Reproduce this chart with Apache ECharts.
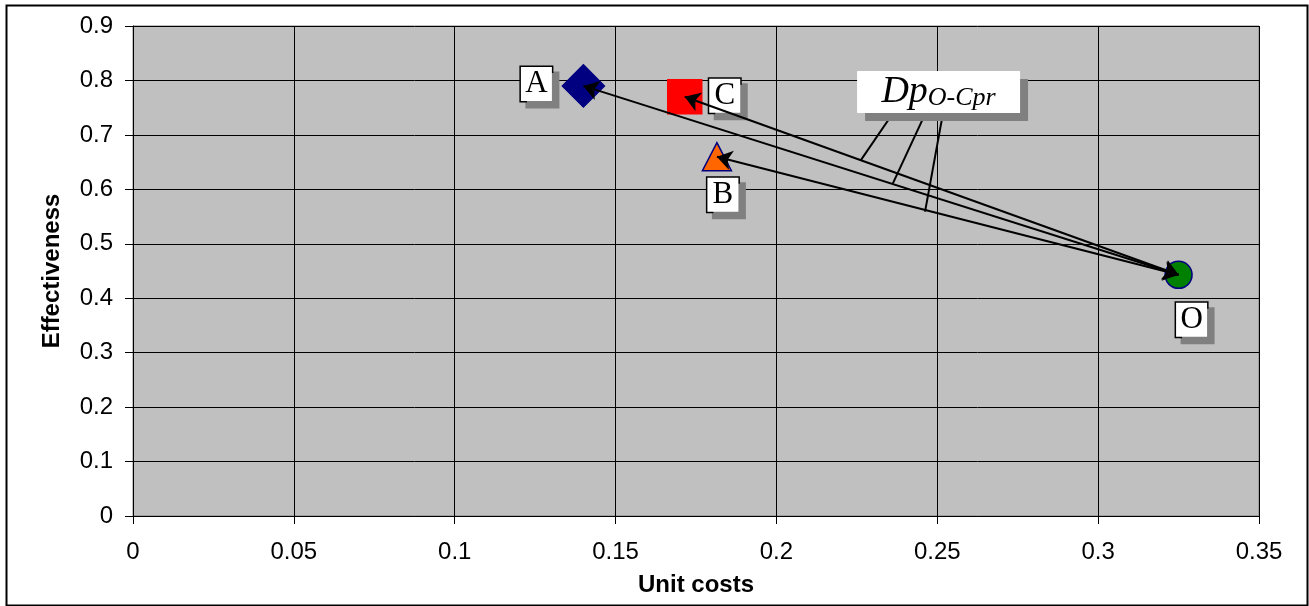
<!DOCTYPE html>
<html>
<head>
<meta charset="utf-8">
<script src="https://cdn.jsdelivr.net/npm/echarts@6/dist/echarts.min.js"></script>
<style>html,body{margin:0;padding:0;background:#fff}#c{width:1309px;height:606px}</style>
</head>
<body>
<div id="c"></div>
<script>
// ---- data ----
const pointNames = ['A', 'B', 'C', 'O'];
const unitCosts = [0.14, 0.1815, 0.1715, 0.325];
const effectiveness = [0.79, 0.66, 0.77, 0.443];
const xTicks = [0, 0.05, 0.1, 0.15, 0.2, 0.25, 0.3, 0.35];
const yTicks = [0, 0.1, 0.2, 0.3, 0.4, 0.5, 0.6, 0.7, 0.8, 0.9];
// arrows go from O to each of A, B, C
const arrowFrom = 'O';
const arrowTo = ['A', 'C', 'B'];
// callout "Dp O-Cpr" anchor and its leader lines (data coordinates)
const calloutMain = 'Dp';
const calloutSub = 'O-Cpr';
const calloutAt = [0.2504, 0.7788];
const leaderStarts = [[0.236, 0.738], [0.2462, 0.738], [0.2515, 0.731]];
const leaderEnds = [[0.2263, 0.654], [0.2362, 0.611], [0.2462, 0.559]];

// ---- styles (not data) ----
const styleMap = {
  A: { symbol: 'diamond', size: 42, color: '#000080', border: '#000080', off: [-47, -2] },
  B: { symbol: 'triangle', size: [29, 28], color: '#FF6600', border: '#000080', off: [6, 38] },
  C: { symbol: 'rect', size: 34, color: '#FF0000', border: '#FF0000', off: [40, -1] },
  O: { symbol: 'circle', size: 27, color: '#008000', border: '#000080', off: [13, 45] }
};

const pt = n => { const i = pointNames.indexOf(n); return [unitCosts[i], effectiveness[i]]; };

const boxLabel = (off) => ({
  show: true, position: 'inside', offset: off,
  formatter: '{b}',
  fontFamily: 'Liberation Serif', fontSize: 31, color: '#000',
  backgroundColor: '#fff', borderColor: '#000', borderWidth: 1.5,
  width: 31, height: 34, align: 'center', verticalAlign: 'middle', lineHeight: 34,
  shadowColor: '#808080', shadowOffsetX: 6, shadowOffsetY: 6, shadowBlur: 0
});

const series = pointNames.map((n, i) => {
  const s = styleMap[n];
  return {
    type: 'scatter', name: n, z: 3,
    symbol: s.symbol, symbolSize: s.size,
    itemStyle: { color: s.color, borderColor: s.border, borderWidth: 1.5, opacity: 1 },
    label: boxLabel(s.off),
    data: [{ name: n, value: [unitCosts[i], effectiveness[i]] }],
    emphasis: { disabled: true }
  };
});

series.push({
  type: 'lines', coordinateSystem: 'cartesian2d', z: 5,
  symbol: ['arrow', 'arrow'], symbolSize: [15, 15],
  lineStyle: { color: '#000', width: 2, opacity: 1, curveness: 0 },
  data: arrowTo.map(t => ({ coords: [pt(arrowFrom), pt(t)] })),
  silent: true
});

series.push({
  type: 'lines', coordinateSystem: 'cartesian2d', z: 5,
  symbol: ['none', 'none'],
  lineStyle: { color: '#000', width: 2, opacity: 1 },
  data: leaderStarts.map((s, i) => ({ coords: [s, leaderEnds[i]] })),
  silent: true
});

series.push({
  type: 'scatter', z: 6, symbolSize: 0, silent: true,
  itemStyle: { opacity: 1 },
  emphasis: { disabled: true },
  data: [{ value: calloutAt, name: 'callout' }],
  label: {
    show: true, position: 'inside', opacity: 1,
    formatter: '{m|' + calloutMain + '}{s|' + calloutSub + '}',
    backgroundColor: '#fff', borderColor: '#fff', borderWidth: 0,
    width: 163, height: 42, align: 'center', verticalAlign: 'middle',
    shadowColor: '#808080', shadowOffsetX: 8, shadowOffsetY: 8, shadowBlur: 0,
    rich: {
      m: { fontFamily: 'Liberation Serif', fontStyle: 'italic', fontSize: 38, color: '#000', verticalAlign: 'bottom', lineHeight: 40 },
      s: { fontFamily: 'Liberation Serif', fontStyle: 'italic', fontSize: 26, color: '#000', verticalAlign: 'bottom', lineHeight: 34 }
    }
  }
});

const chart = echarts.init(document.getElementById('c'));
chart.setOption({
  animation: false,
  backgroundColor: '#fff',
  grid: { left: 133, right: 50, top: 26, bottom: 90, show: true, backgroundColor: '#C0C0C0', borderColor: '#808080', borderWidth: 1 },
  xAxis: {
    type: 'value', min: xTicks[0], max: xTicks[xTicks.length - 1], interval: 0.05,
    name: 'Unit costs', nameLocation: 'middle', nameGap: 57,
    nameTextStyle: { fontFamily: 'Liberation Sans', fontWeight: 'bold', fontSize: 24, color: '#000' },
    axisLine: { show: true, lineStyle: { color: '#000', width: 1 } },
    axisTick: { show: true, length: 8, lineStyle: { color: '#000' } },
    axisLabel: { fontFamily: 'Liberation Sans', fontSize: 24, color: '#000', margin: 24, formatter: v => String(+v.toFixed(2)) },
    splitLine: { show: true, lineStyle: { color: '#000', width: 1 } }
  },
  yAxis: {
    type: 'value', min: yTicks[0], max: yTicks[yTicks.length - 1], interval: 0.1,
    name: 'Effectiveness', nameLocation: 'middle', nameGap: 69,
    nameTextStyle: { fontFamily: 'Liberation Sans', fontWeight: 'bold', fontSize: 24, color: '#000' },
    axisLine: { show: true, lineStyle: { color: '#000', width: 1 } },
    axisTick: { show: true, length: 8, lineStyle: { color: '#000' } },
    axisLabel: { fontFamily: 'Liberation Sans', fontSize: 24, color: '#000', margin: 20, formatter: v => String(+v.toFixed(1)) },
    splitLine: { show: true, lineStyle: { color: '#000', width: 1 } }
  },
  graphic: [{
    type: 'rect', left: 4, top: 3, silent: true,
    shape: { width: 1301, height: 600 },
    style: { fill: 'none', stroke: '#000', lineWidth: 2 }
  }],
  series: series
});
</script>
</body>
</html>
